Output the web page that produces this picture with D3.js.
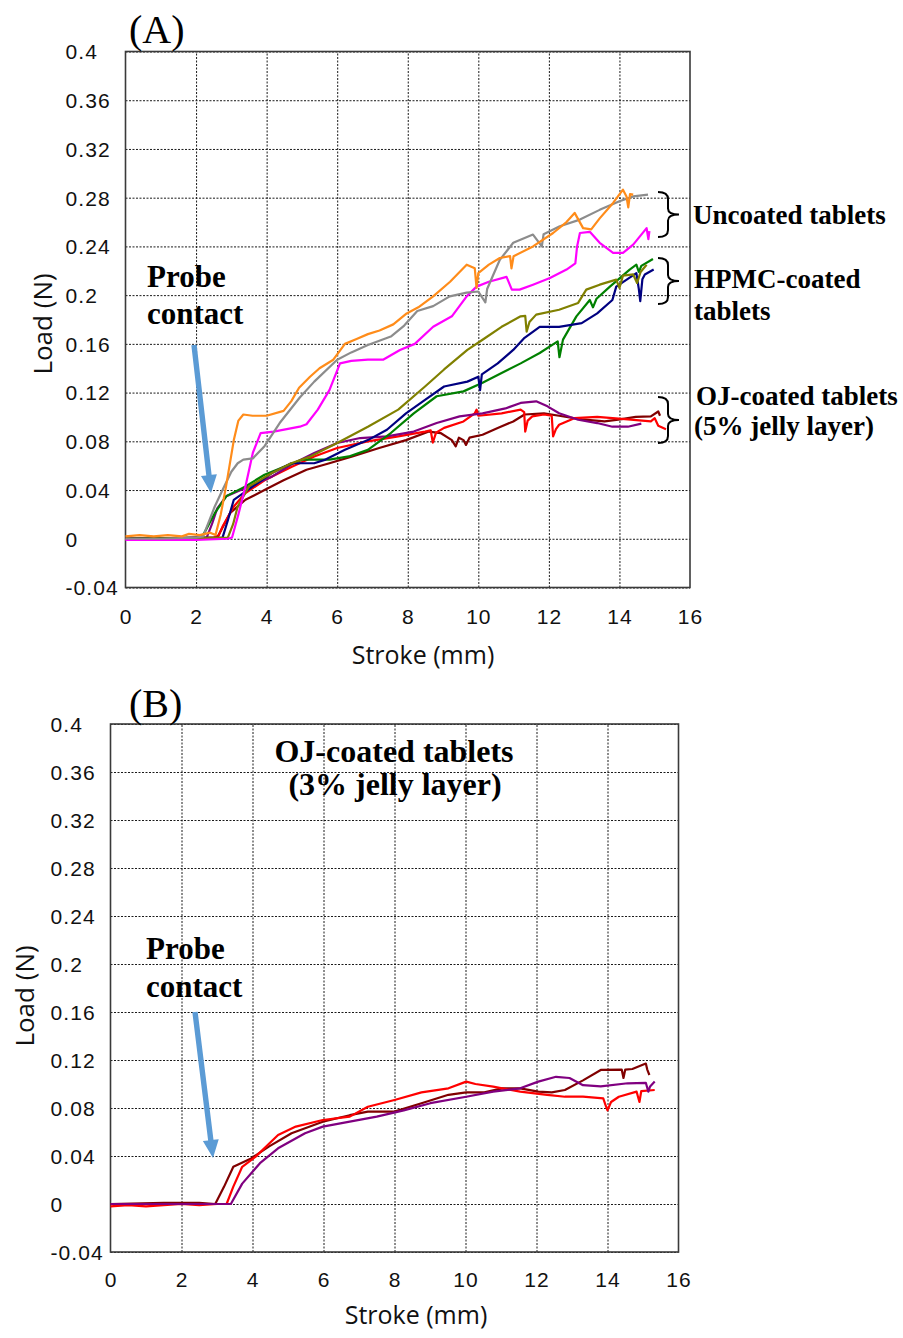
<!DOCTYPE html>
<html>
<head>
<meta charset="utf-8">
<script src="https://cdn.jsdelivr.net/npm/d3@7"></script>
<style>
  html, body { margin: 0; padding: 0; background: #fff; }
  svg { display: block; }
</style>
</head>
<body>
<script>
// ---------------- DATA ----------------
const xTicks = [0, 2, 4, 6, 8, 10, 12, 14, 16];
const yTicks = [-0.04, 0, 0.04, 0.08, 0.12, 0.16, 0.2, 0.24, 0.28, 0.32, 0.36, 0.4];
const yTickLabels = ["-0.04", "0", "0.04", "0.08", "0.12", "0.16", "0.2", "0.24", "0.28", "0.32", "0.36", "0.4"];

// Panel A — uncoated tablets
const uncoatedOrange = [[0,0.002],[0.4,0.003],[0.8,0.002],[1.2,0.003],[1.6,0.002],[1.8,0.004],[2.1,0.003],[2.4,0.005],[2.55,0.003],[2.7,0.02],[2.85,0.043],[3.07,0.081],[3.2,0.097],[3.34,0.102],[3.6,0.101],[4.0,0.101],[4.48,0.105],[4.7,0.113],[4.92,0.124],[5.23,0.133],[5.5,0.14],[5.89,0.147],[6.22,0.16],[6.55,0.164],[6.87,0.168],[7.2,0.171],[7.59,0.176],[7.97,0.185],[8.3,0.19],[8.72,0.199],[9.2,0.211],[9.67,0.225],[9.9,0.222],[9.95,0.206],[10.0,0.218],[10.3,0.225],[10.61,0.2305],[10.9,0.232],[10.94,0.222],[11.0,0.232],[11.55,0.240],[12.12,0.251],[12.5,0.26],[12.73,0.2675],[12.97,0.255],[13.2,0.254],[13.44,0.263],[13.82,0.2757],[14.1,0.2866],[14.2,0.281],[14.25,0.272],[14.3,0.283],[14.39,0.2825]];
const uncoatedGray = [[0,0],[1,0],[2,0.001],[2.2,0.002],[2.53,0.0265],[2.75,0.04],[3.0,0.055],[3.18,0.062],[3.34,0.065],[3.61,0.066],[3.94,0.076],[4.37,0.095],[4.94,0.116],[5.35,0.129],[6.0,0.147],[6.4,0.153],[6.87,0.159],[7.52,0.166],[7.9,0.175],[8.27,0.187],[8.72,0.191],[9.19,0.199],[9.67,0.202],[10.0,0.203],[10.2,0.194],[10.25,0.205],[10.61,0.229],[10.99,0.243],[11.55,0.2497],[11.8,0.24],[11.85,0.25],[12.31,0.2565],[12.88,0.262],[13.44,0.270],[14.0,0.277],[14.39,0.281],[14.81,0.2825]];
const uncoatedMagenta = [[0,-0.001],[1,-0.001],[2,-0.001],[2.9,0],[3.02,0.001],[3.2,0.02],[3.4,0.043],[3.61,0.0706],[3.83,0.0868],[4.2,0.088],[4.94,0.092],[5.13,0.094],[5.45,0.106],[5.78,0.122],[6.08,0.144],[6.4,0.146],[6.87,0.147],[7.3,0.147],[7.78,0.155],[8.2,0.16],[8.72,0.174],[9.25,0.1826],[9.67,0.199],[9.95,0.207],[10.3,0.211],[10.8,0.215],[10.95,0.2045],[11.17,0.2045],[11.55,0.2086],[12.03,0.214],[12.5,0.221],[12.75,0.226],[12.8,0.24],[12.88,0.251],[13.16,0.252],[13.44,0.243],[13.82,0.2347],[14.1,0.2347],[14.39,0.2415],[14.77,0.255],[14.82,0.246],[14.85,0.2525]];
// Panel A — HPMC-coated tablets
const hpmcOlive = [[0,0],[2.9,0.001],[3.05,0.012],[3.18,0.0265],[3.5,0.043],[4.15,0.054],[4.7,0.062],[5.24,0.0676],[6.0,0.0786],[6.87,0.092],[7.73,0.106],[8.49,0.125],[9.03,0.139],[9.69,0.155],[10.12,0.1634],[10.66,0.174],[11.2,0.1826],[11.33,0.183],[11.37,0.170],[11.45,0.178],[11.64,0.184],[12.29,0.188],[12.83,0.1936],[13.06,0.2045],[13.44,0.2086],[13.91,0.2127],[14.0,0.206],[14.1,0.216],[14.39,0.217],[14.5,0.21],[14.6,0.219],[14.77,0.225]];
const hpmcNavy = [[0,0],[2.75,0.001],[2.9,0.015],[3.07,0.032],[3.61,0.043],[4.15,0.054],[4.7,0.062],[5.35,0.062],[5.67,0.065],[6.22,0.073],[6.87,0.081],[7.41,0.0895],[7.95,0.103],[8.49,0.114],[9.03,0.125],[9.69,0.129],[10.0,0.133],[10.05,0.122],[10.1,0.135],[10.55,0.144],[10.99,0.155],[11.31,0.165],[11.74,0.174],[12.29,0.174],[12.93,0.177],[13.37,0.185],[13.8,0.196],[13.91,0.207],[14.48,0.218],[14.55,0.205],[14.59,0.195],[14.65,0.213],[14.72,0.217],[14.97,0.221]];
const hpmcGreen = [[0,0],[2.1,0.001],[2.2,0.003],[2.53,0.021],[2.86,0.035],[3.4,0.043],[3.94,0.0526],[4.48,0.059],[5.02,0.065],[5.78,0.065],[6.33,0.0676],[6.87,0.073],[7.52,0.0868],[8.17,0.103],[8.82,0.117],[9.58,0.121],[10.12,0.128],[10.66,0.136],[11.2,0.144],[11.74,0.1525],[12.25,0.162],[12.3,0.149],[12.4,0.1635],[12.78,0.1826],[13.16,0.196],[13.25,0.19],[13.35,0.197],[13.73,0.207],[14.29,0.221],[14.48,0.225],[14.55,0.219],[14.62,0.224],[14.95,0.2297]];
// Panel A — OJ-coated tablets (5% jelly layer)
const oj5Purple = [[0,0],[2.3,0.001],[2.45,0.012],[2.6,0.025],[2.86,0.035],[3.4,0.0416],[4.15,0.051],[4.7,0.061],[5.35,0.0704],[6.0,0.0786],[6.65,0.0827],[7.41,0.084],[8.17,0.088],[8.82,0.095],[9.47,0.1005],[10.12,0.103],[10.77,0.107],[11.2,0.1115],[11.64,0.1128],[11.96,0.1087],[12.29,0.103],[12.83,0.0977],[13.37,0.095],[13.8,0.092],[14.24,0.092],[14.62,0.0945]];
const oj5Red = [[0,0],[2.5,0.001],[2.63,0.002],[2.75,0.01],[3.07,0.0265],[3.4,0.0375],[3.94,0.048],[4.7,0.059],[5.35,0.0676],[6.0,0.0745],[6.87,0.080],[7.73,0.084],[8.49,0.088],[8.65,0.089],[8.71,0.079],[8.8,0.087],[9.03,0.091],[9.58,0.0963],[9.9,0.103],[9.95,0.106],[10.0,0.101],[10.66,0.103],[11.2,0.106],[11.3,0.104],[11.33,0.088],[11.4,0.097],[11.53,0.1005],[11.86,0.102],[12.08,0.101],[12.12,0.084],[12.2,0.09],[12.29,0.0936],[12.72,0.099],[13.37,0.1],[14.24,0.098],[14.89,0.0963],[15.0,0.099],[15.1,0.0928],[15.32,0.090]];
const oj5Maroon = [[0,0],[2.55,0.001],[2.64,0.003],[2.96,0.021],[3.4,0.032],[3.94,0.040],[4.48,0.048],[5.13,0.0567],[5.78,0.062],[6.43,0.0676],[7.19,0.0745],[7.95,0.081],[8.6,0.088],[8.93,0.0868],[9.25,0.081],[9.36,0.0758],[9.45,0.083],[9.58,0.081],[9.65,0.077],[9.75,0.083],[10.12,0.0854],[10.55,0.091],[10.99,0.0963],[11.31,0.102],[11.86,0.103],[12.29,0.101],[12.93,0.098],[13.58,0.0963],[14.02,0.098],[14.46,0.100],[14.89,0.1005],[15.1,0.1045],[15.15,0.101]];

// Panel B — OJ-coated tablets (3% jelly layer)
const oj3Maroon = [[0,0],[1.5,0.001],[2.5,0.001],[2.95,0],[3.2,0.0145],[3.46,0.031],[3.96,0.038],[4.47,0.048],[5.1,0.059],[5.98,0.0686],[6.74,0.074],[7.25,0.077],[8.0,0.077],[8.76,0.084],[9.52,0.091],[10.02,0.093],[10.53,0.093],[11.03,0.0964],[11.54,0.0964],[12.05,0.0936],[12.43,0.093],[12.8,0.095],[13.31,0.103],[13.81,0.1117],[14.4,0.112],[14.45,0.105],[14.5,0.112],[14.7,0.1125],[15.08,0.117],[15.12,0.112],[15.18,0.1075]];
const oj3Red = [[0,-0.002],[0.5,-0.001],[1,-0.002],[1.5,-0.001],[2,0],[2.5,-0.001],[3.0,0],[3.27,0],[3.46,0.0145],[3.71,0.031],[4.09,0.0395],[4.72,0.0575],[5.22,0.0645],[5.98,0.070],[6.74,0.0728],[7.25,0.081],[8.0,0.0867],[8.76,0.093],[9.52,0.0964],[10.02,0.102],[10.28,0.100],[10.78,0.0978],[11.54,0.0936],[12.3,0.091],[12.8,0.0894],[13.31,0.0894],[13.88,0.088],[13.95,0.082],[14.0,0.078],[14.1,0.085],[14.32,0.0894],[14.82,0.0936],[14.9,0.085],[14.95,0.094],[15.33,0.095]];
const oj3Purple = [[0,0],[3.39,0],[3.71,0.017],[4.21,0.034],[4.72,0.0464],[5.48,0.059],[5.98,0.0645],[6.74,0.0686],[7.5,0.0728],[8.26,0.078],[9.01,0.084],[10.02,0.0894],[10.78,0.0936],[11.54,0.0964],[12.05,0.102],[12.55,0.106],[12.93,0.105],[13.31,0.099],[13.81,0.098],[14.57,0.1006],[15.08,0.101],[15.15,0.0936],[15.2,0.098],[15.33,0.102]];

const seriesA = [
  {data: oj5Maroon, color: "#800000"},
  {data: oj5Red, color: "#ff0000"},
  {data: oj5Purple, color: "#800080"},
  {data: hpmcGreen, color: "#008000"},
  {data: hpmcNavy, color: "#000080"},
  {data: hpmcOlive, color: "#808000"},
  {data: uncoatedMagenta, color: "#ff00ff"},
  {data: uncoatedGray, color: "#8c8c8c"},
  {data: uncoatedOrange, color: "#ff8c1a"}
];
const seriesB = [
  {data: oj3Maroon, color: "#800000"},
  {data: oj3Red, color: "#ff0000"},
  {data: oj3Purple, color: "#800080"}
];

// ---------------- DRAW ----------------
const svg = d3.select("body").append("svg").attr("width", 903).attr("height", 1338)
  .style("background", "#fff");

const serif = "'Liberation Serif', 'Times New Roman', serif";
const sans = "'Liberation Sans', Arial, sans-serif";
const titleFont = "'Open Sans', 'Noto Sans', sans-serif";

function drawPanel(p) {
  const x = d3.scaleLinear().domain([0, 16]).range([p.left, p.right]);
  const y = d3.scaleLinear().domain([-0.04, 0.4]).range([p.bottom, p.top]);
  const g = svg.append("g");

  // grid
  const gx = g.append("g").attr("transform", `translate(0,${p.bottom})`)
    .call(d3.axisBottom(x).tickValues(xTicks.slice(1, -1)).tickSize(-(p.bottom - p.top)).tickFormat(""));
  gx.select(".domain").remove();
  const gy = g.append("g").attr("transform", `translate(${p.left},0)`)
    .call(d3.axisLeft(y).tickValues(yTicks).tickSize(-(p.right - p.left)).tickFormat(""));
  gy.select(".domain").remove();
  g.selectAll(".tick line").attr("stroke", "#1a1a1a").attr("stroke-width", 1)
    .attr("stroke-dasharray", "2,1.5");

  // frame
  g.append("rect").attr("x", p.left).attr("y", p.top)
    .attr("width", p.right - p.left).attr("height", p.bottom - p.top)
    .attr("fill", "none").attr("stroke", "#3a3a3a").attr("stroke-width", 1.6);

  // tick labels
  const ax = g.append("g").attr("transform", `translate(0,${p.bottom})`)
    .call(d3.axisBottom(x).tickValues(xTicks).tickSize(0).tickFormat(d3.format("d")));
  ax.select(".domain").remove();
  ax.selectAll("text").attr("y", p.xLabelDy).attr("dy", "0.35em")
    .style("font-family", sans).style("font-size", "21px").style("letter-spacing", "1px")
    .attr("fill", "#111");

  const ay = g.append("g").attr("transform", `translate(${p.left},0)`)
    .call(d3.axisLeft(y).tickValues(yTicks).tickSize(0)
      .tickFormat((d, i) => yTickLabels[i]));
  ay.select(".domain").remove();
  ay.selectAll("text").attr("x", p.yLabelX - p.left).attr("dy", "0.35em")
    .attr("text-anchor", "start")
    .style("font-family", sans).style("font-size", "21px").style("letter-spacing", "1.1px")
    .attr("fill", "#111");

  // lines
  const line = d3.line().x(d => x(d[0])).y(d => y(d[1]));
  p.series.forEach(s => {
    g.append("path").datum(s.data).attr("d", line)
      .attr("fill", "none").attr("stroke", s.color).attr("stroke-width", 2.2)
      .attr("stroke-linejoin", "round");
  });

  // axis titles
  g.append("text").attr("transform", `translate(${p.yTitleX},${p.yTitleY}) rotate(-90)`)
    .attr("text-anchor", "middle").style("font-family", titleFont).style("font-size", "26px")
    .attr("fill", "#111").text("Load (N)");
  g.append("text").attr("x", p.xTitleX).attr("y", p.xTitleY)
    .attr("text-anchor", "middle").style("font-family", titleFont).style("font-size", "25px")
    .attr("fill", "#111").text("Stroke (mm)");

  // panel label
  g.append("text").attr("x", 129).attr("y", p.labelY)
    .style("font-family", serif).style("font-size", "40px").attr("fill", "#000").text(p.label);

  return {x, y, g};
}

function arrow(x1, y1, x2, y2) {
  const dx = x2 - x1, dy = y2 - y1, L = Math.hypot(dx, dy);
  const ux = dx / L, uy = dy / L, nx = -uy, ny = ux;
  const hl = 18, hw = 8, sw = 2.7;
  const bx = x2 - ux * hl, by = y2 - uy * hl;
  const pts = [
    [x1 + nx * sw, y1 + ny * sw], [bx + nx * sw, by + ny * sw], [bx + nx * hw, by + ny * hw],
    [x2, y2], [bx - nx * hw, by - ny * hw], [bx - nx * sw, by - ny * sw], [x1 - nx * sw, y1 - ny * sw]
  ];
  svg.append("polygon").attr("points", pts.map(q => q.join(",")).join(" ")).attr("fill", "#5b9bd5");
}

function boldText(x, y, txt, size, anchor) {
  svg.append("text").attr("x", x).attr("y", y).attr("text-anchor", anchor || "start")
    .style("font-family", serif).style("font-weight", "bold").style("font-size", size + "px")
    .attr("fill", "#000").text(txt);
}

function brace(x0, y0, y1) {
  const s = x0 + 10, t = x0 + 21, m = (y0 + y1) / 2;
  const d = `M${x0},${y0} Q${s},${y0} ${s},${y0 + 7} L${s},${m - 6} Q${s},${m} ${t},${m} ` +
            `Q${s},${m} ${s},${m + 6} L${s},${y1 - 7} Q${s},${y1} ${x0},${y1}`;
  svg.append("path").attr("d", d).attr("fill", "none").attr("stroke", "#000").attr("stroke-width", 2);
}

// Panel A
drawPanel({
  left: 125.5, right: 690, top: 51.5, bottom: 587.5, series: seriesA,
  yLabelX: 65.5, xLabelDy: 29, yTitleX: 52, yTitleY: 324, xTitleX: 423, xTitleY: 664,
  label: "(A)", labelY: 43
});
// Panel B
drawPanel({
  left: 110.5, right: 678.5, top: 724, bottom: 1252, series: seriesB,
  yLabelX: 50.5, xLabelDy: 28, yTitleX: 33.5, yTitleY: 996, xTitleX: 416, xTitleY: 1324,
  label: "(B)", labelY: 717
});

// Annotations A
boldText(147, 287, "Probe", 31);
boldText(147, 324, "contact", 31);
arrow(194, 345, 211, 493);
brace(658, 192, 237);
brace(658, 258, 304);
brace(658, 397, 443);
boldText(693, 224, "Uncoated tablets", 27);
boldText(694, 288, "HPMC-coated", 27);
boldText(694, 320, "tablets", 27);
boldText(696, 405, "OJ-coated tablets", 27);
boldText(694, 435, "(5% jelly layer)", 27);

// Annotations B
boldText(394, 762, "OJ-coated tablets", 32, "middle");
boldText(395, 795, "(3% jelly layer)", 32, "middle");
boldText(146, 959, "Probe", 31);
boldText(146, 997, "contact", 31);
arrow(195, 1012, 213, 1158);
</script>
</body>
</html>
